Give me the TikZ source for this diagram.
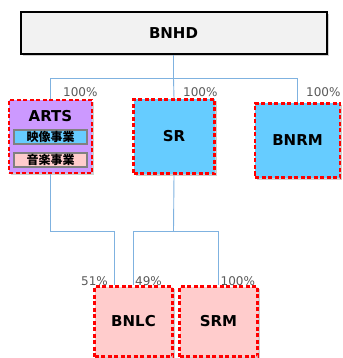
\documentclass[tikz,border=0pt]{standalone}
\usepackage{fontspec}
\setmainfont{DejaVu Sans}
\newfontfamily\cjk{Noto Sans CJK JP}
\definecolor{headgray}{HTML}{F2F2F2}
\definecolor{artspurple}{HTML}{CC99FF}
\definecolor{subblue}{HTML}{66CCFF}
\definecolor{subpink}{HTML}{FFCCCC}
\definecolor{linkblue}{HTML}{7FB2E0}
\definecolor{pctgray}{HTML}{595959}
\definecolor{shadowgray}{HTML}{D0D0D0}
\newcommand\share[3]{% anchor, position, label
  \node[pct,anchor=#1] at (#2) {#3};
}

\begin{document}
\begin{tikzpicture}[x=1pt,y=-1pt]
  \tikzset{
    node distance=123.5pt,
    box/.style={draw,inner sep=0pt,minimum width=81pt,minimum height=74pt,
      font=\fontsize{15}{18}\selectfont\bfseries,
      preaction={fill=shadowgray,transform canvas={xshift=2pt,yshift=-2pt}}},
    unit/.style={box,draw=red,line width=2.3pt,dash pattern=on 4pt off 2.5pt},
    segment/.style={draw=gray,line width=1.4pt,inner sep=0pt,
      minimum width=73pt,minimum height=14pt,font=\cjk\bfseries\fontsize{12}{14}\selectfont},
    link/.style={draw=linkblue,line width=.9pt},
    pct/.style={inner sep=0pt,text=pctgray,font=\fontsize{12}{14}\selectfont},
  }
  \useasboundingbox (0,0) rectangle (342,358);

  \node [box,fill=headgray,line width=2pt,minimum width=306pt,minimum height=42pt]
    (bnhd) at (173.5,33) {BNHD};
  \node [unit,fill=artspurple,minimum width=83pt,minimum height=73pt]
    (arts) at (50.5,136.5) {};
  \node [unit,fill=subblue] (sr) [right of = arts] {SR};
  \node [unit,fill=subblue,minimum width=85pt,yshift=-4pt] (bnrm) [right of = sr] {BNRM};
  \node [font=\fontsize{15}{18}\selectfont\bfseries] (artsname) at ([yshift=-17pt]arts.north) {ARTS};
  \node [segment,fill=subblue] (movie) at ([yshift=-38pt]arts.north) {映像事業};
  \node [segment,fill=subpink] (music) at ([yshift=-61pt]arts.north) {音楽事業};

  \node [unit,fill=subpink,minimum width=78pt,minimum height=70pt] (bnlc) at (133.5,321.5) {BNLC};
  \node [unit,fill=subpink,minimum width=78pt,minimum height=70pt,node distance=85pt]
    (srm) [right of = bnlc] {SRM};

  \coordinate (hub) at (173.5,78);
  \coordinate (artsbend) at (50.5,231);
  \coordinate (srbend) at (173.5,231);

  \draw[link] (bnhd.south) -- (hub);
  \draw[link] (hub) -| (arts.north);
  \draw[link] (hub) -- (sr.north);
  \draw[link] (hub) -| (bnrm.north);
  \draw[link] (arts.south) -- (artsbend) -| ([xshift=-19pt]bnlc.north);
  \draw[link] (sr.south) -- (srbend);
  \draw[link] (srbend) -| (bnlc.north);
  \draw[link] (srbend) -| (srm.north);

  \share{base west}{63,97}{100\%}
  \share{base west}{183,97}{100\%}
  \share{base west}{306,97}{100\%}
  \share{base east}{108,285}{51\%}
  \share{base west}{135,285}{49\%}
  \share{base west}{220.5,285}{100\%}
\end{tikzpicture}
\end{document}
